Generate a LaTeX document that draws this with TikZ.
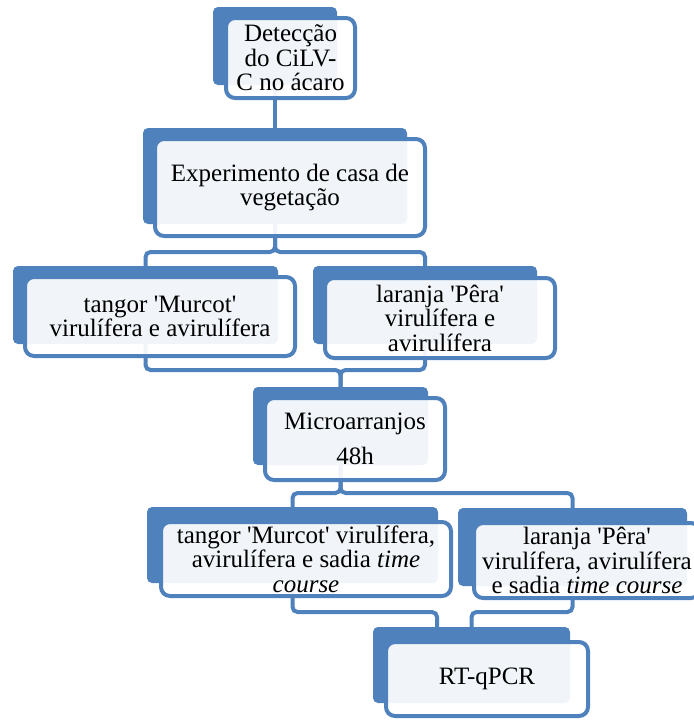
\documentclass[tikz,border=0pt]{standalone}
\usepackage{fontspec}
\setmainfont{Liberation Serif}
\usetikzlibrary{backgrounds}
\definecolor{boxblue}{HTML}{4F81BD}

\tikzset{
	backbox/.style={fill=boxblue, rounded corners=5pt, anchor=north west, inner sep=0pt, outer sep=0pt},
	frontbox/.style={draw=boxblue, line width=4pt, fill=white, fill opacity=0.92, text opacity=1,
		rounded corners=9pt, anchor=north west, inner sep=0pt, outer sep=0pt, align=center,
		font=\fontsize{25}{24.5}\selectfont},
	link/.style={draw=boxblue, line width=4pt, rounded corners=5pt}
}

\begin{document}
\begin{tikzpicture}[x=1pt,y=-1pt]
	
	\useasboundingbox (0,0) rectangle (694,721);
	
	% back boxes
	\node[backbox, minimum width=124pt, minimum height=78pt] (b1back) at (213,7) {};
	\node[backbox, minimum width=264pt, minimum height=96pt] (b2back) at (143,128) {};
	\node[backbox, minimum width=265pt, minimum height=78pt] (b3back) at (13,266) {};
	\node[backbox, minimum width=224pt, minimum height=78pt] (b4back) at (313,266) {};
	\node[backbox, minimum width=175pt, minimum height=78pt] (b5back) at (253,387) {};
	\node[backbox, minimum width=291pt, minimum height=76pt] (b6back) at (147,507) {};
	\node[backbox, minimum width=229pt, minimum height=78pt] (b7back) at (458,508) {};
	\node[backbox, minimum width=197pt, minimum height=76pt] (b8back) at (373,627) {};
	
	% front boxes
	\node[frontbox, minimum width=129pt, minimum height=80pt] (b1) at (226,18) {Detecção\\do CiLV-\\C no ácaro};
	\node[frontbox, minimum width=270pt, minimum height=97pt] (b2) at (155,139) {Experimento de casa de\\vegetação};
	\node[frontbox, minimum width=270pt, minimum height=79pt] (b3) at (25,277) {tangor \textquotesingle Murcot\textquotesingle\\virulífera e avirulífera};
	\node[frontbox, minimum width=230pt, minimum height=80pt] (b4) at (325,278) {laranja \textquotesingle Pêra\textquotesingle\\virulífera e\\avirulífera};
	\node[frontbox, minimum width=180pt, minimum height=82pt] (b5) at (265,398) {Microarranjos\\[10pt]48h};
	\node[frontbox, minimum width=290pt, minimum height=74pt] (b6) at (161,522) {tangor \textquotesingle Murcot\textquotesingle{} virulífera,\\avirulífera e sadia \textit{time}\\\textit{course}};
	\node[frontbox, minimum width=226pt, minimum height=75pt] (b7) at (474,523) {laranja \textquotesingle Pêra\textquotesingle\\virulífera, avirulífera\\e sadia \textit{time course}};
	\node[frontbox, minimum width=202pt, minimum height=74pt] (b8) at (386,642) {RT-qPCR};
	
	% bus levels
	\coordinate (bus1) at (0,252);
	\coordinate (bus2) at (0,370);
	\coordinate (bus3) at (0,493);
	\coordinate (bus4) at (0,612);
	\coordinate (b8inL) at (437,627);
	
	\begin{pgfonlayer}{background}
		\draw[link] (b1back.south) -- (b2back.north);
		
		\draw[link] (b2back.south) |- (bus1 -| b3back.north) -- (b3back.north);
		\draw[link] (b2back.south) |- (bus1 -| b4back.north) -- (b4back.north);
		
		\draw[link] (b3back.south) |- (bus2 -| b5back.north) -- (b5back.north);
		\draw[link] (b4back.south) |- (bus2 -| b5back.north) -- (b5back.north);
		
		\draw[link] (b5back.south) |- (bus3 -| b6back.north) -- (b6back.north);
		\draw[link] (b5back.south) |- (bus3 -| b7back.north) -- (b7back.north);
		
		\draw[link] (b6back.south) |- (bus4 -| b8inL) -- (b8inL);
		\draw[link] (b7back.south) |- (bus4 -| b8back.north) -- (b8back.north);
	\end{pgfonlayer}
	
\end{tikzpicture}
\end{document}
